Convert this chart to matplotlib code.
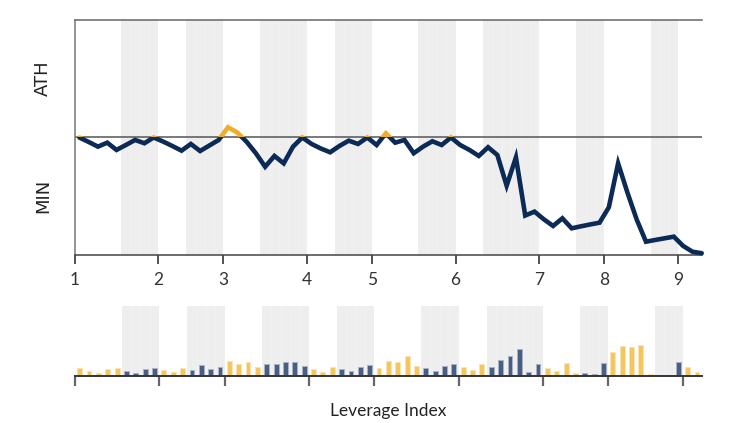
import matplotlib
matplotlib.use("Agg")
import matplotlib.pyplot as plt
from matplotlib.patches import Rectangle

# drawdown relative to all-time high (0 = ATH, -1 = MIN)
drawdown = [
    0.0, -0.038, -0.078, -0.044, -0.106, -0.064, -0.021, -0.049, 0.0, -0.034,
    -0.072, -0.112, -0.055, -0.115, -0.068, -0.021, 0.087, 0.043, -0.036, -0.134,
    -0.249, -0.157, -0.22, -0.078, 0.0, -0.055, -0.094, -0.126, -0.072, -0.027,
    -0.055, 0.0, -0.064, 0.036, -0.044, -0.021, -0.134, -0.078, -0.032, -0.064,
    0.0, -0.064, -0.106, -0.157, -0.083, -0.149, -0.41, -0.169, -0.664, -0.631,
    -0.696, -0.753, -0.688, -0.773, -0.756, -0.74, -0.725, -0.594, -0.22, -0.468,
    -0.698, -0.887, -0.872, -0.858, -0.844, -0.923, -0.972, -0.985,
]

# volume bars (bottom panel)
volume = [
    7.7, 5.3, 3.3, 7.0, 7.7, 5.3, 3.3, 7.0, 8.0, 5.7,
    3.7, 8.0, 6.0, 10.7, 7.3, 8.7, 14.7, 12.3, 13.7, 8.7,
    12.0, 12.0, 14.0, 14.0, 9.7, 6.7, 4.3, 9.3, 6.7, 4.7,
    8.7, 10.7, 7.7, 15.0, 14.0, 20.0, 10.0, 7.7, 5.0, 9.7,
    12.0, 8.7, 6.0, 11.7, 8.7, 15.7, 20.0, 26.7, 4.2, 12.0,
    8.0, 4.7, 13.3, 3.3, 2.7, 2.0, 13.0, 23.7, 30.0, 29.0,
    31.3, 2.0, 1.3, 1.0, 13.7, 8.7, 4.0,
]

# shaded periods (start, end) in index units
bands = [(5, 9), (12, 16), (20, 25), (28, 32), (37, 41), (44, 50), (54, 57), (62, 65)]

tick_pos = [0, 9, 16, 25, 32, 41, 50, 57, 65]
tick_labels = ["1", "2", "3", "4", "5", "6", "7", "8", "9"]

navy = "#0c2a56"
gold = "#eeae2c"
bar_yellow = "#f3c662"
bar_blue = "#4a5e83"
shade = "#eeeeee"


def draw_bands(axis):
    for start, end in bands:
        for k in range(start, end):
            axis.axvspan(k, k + 1, color=shade, lw=0, zorder=0)
        for k in range(start + 1, end):
            axis.axvline(k, color="#f3f3f3", lw=0.5, zorder=0.5)


fig = plt.figure(figsize=(7.42, 4.23), dpi=100)

# top panel: price relative to ATH
ax = fig.add_axes([0.1007, 0.3972, 0.845, 0.5555])
draw_bands(ax)
ax.axhline(0, color="#555555", lw=1.1, zorder=1)

x = [i + 0.5 for i in range(len(drawdown))]
above = ax.plot(x, drawdown, color=gold, lw=3.3, solid_joinstyle="miter",
                solid_capstyle="round", zorder=3)[0]
below = ax.plot(x, drawdown, color=navy, lw=3.3, solid_joinstyle="miter",
                solid_capstyle="round", zorder=4)[0]
above.set_clip_path(Rectangle((-5, 0), 100, 5, transform=ax.transData))
below.set_clip_path(Rectangle((-5, -5), 100, 5, transform=ax.transData))

ax.set_xlim(0, 67.5)
ax.set_ylim(-1, 1)
ax.set_yticks([])
ax.set_xticks(tick_pos)
ax.set_xticklabels(tick_labels, fontfamily="Lato")
ax.tick_params(axis="x", length=6.5, width=1.2, color="#333333", pad=6,
               labelsize=12.5, labelcolor="#333333")
ax.spines["right"].set_visible(False)
ax.spines["top"].set_color("#666666")
ax.spines["left"].set_color("#777777")
ax.spines["bottom"].set_color("#444444")
for s in ["top", "left", "bottom"]:
    ax.spines[s].set_linewidth(1.1)

fig.text(0.058, 0.8144, "ATH", rotation=90, ha="center", va="center",
         fontsize=13, color="#222222")
fig.text(0.058, 0.5366, "MIN", rotation=90, ha="center", va="center",
         fontsize=13, color="#222222")

# bottom panel: volume
ax2 = fig.add_axes([0.1011, 0.1111, 0.8446, 0.1655])
draw_bands(ax2)
in_band = [any(s <= i < e for s, e in bands) for i in range(len(volume))]
colors = [bar_blue if b else bar_yellow for b in in_band]
edges = ["#a9b3c6" if b else "#fbe4b0" for b in in_band]
ax2.bar([i + 0.5 for i in range(len(volume))], volume, width=0.52,
        color=colors, edgecolor=edges, linewidth=0.7, zorder=2)
ax2.set_xlim(0, 67)
ax2.set_ylim(0, 70)
ax2.set_yticks([])
ax2.set_xticks(tick_pos)
ax2.set_xticklabels([])
ax2.tick_params(axis="x", length=7, width=1.6, color="#666666")
for s in ["top", "left", "right"]:
    ax2.spines[s].set_visible(False)
ax2.spines["bottom"].set_color("#333333")
ax2.spines["bottom"].set_linewidth(1.4)

fig.text(0.5236, 0.0165, "Leverage Index", ha="center", va="baseline",
         fontsize=12.5, fontfamily="Lato", color="#222222")

fig.savefig("out.png", dpi=100)
